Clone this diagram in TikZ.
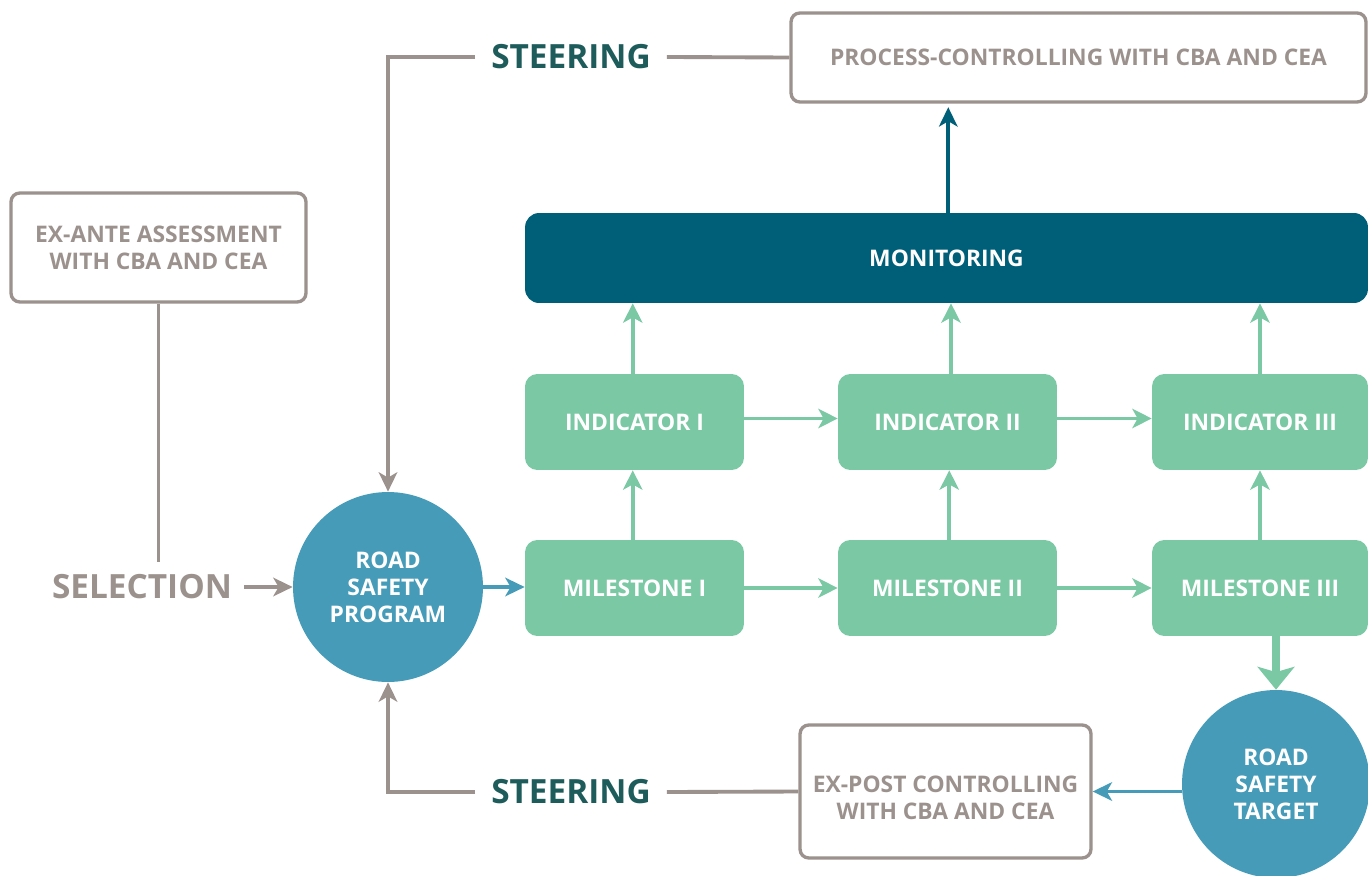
\documentclass[tikz,border=0pt]{standalone}
\usepackage{fontspec}
\setmainfont{Open Sans}
\usetikzlibrary{arrows.meta}
\definecolor{cgray}{HTML}{9B918D}
\definecolor{cblue}{HTML}{459BB8}
\definecolor{cgreen}{HTML}{7BC8A4}
\definecolor{cmon}{HTML}{005F78}
\definecolor{csteer}{HTML}{1E5C5B}
\tikzset{
  lbl/.style={font=\bfseries\fontsize{13}{15.4}\selectfont, align=center},
  graybox/.style={lbl, draw=cgray, line width=1.9pt, rounded corners=5pt, fill=white, text=cgray, inner sep=0pt},
  greenbox/.style={lbl, fill=cgreen, rounded corners=7pt, text=white, minimum width=4.38cm, minimum height=1.92cm, inner sep=0pt},
  circ/.style={lbl, circle, fill=cblue, text=white, inner sep=0pt},
  bigword/.style={font=\bfseries\fontsize{19}{22}\selectfont, inner sep=6.5pt},
  gline/.style={draw=cgray, line width=2.2pt},
  garrow/.style={gline, -{Stealth[length=11pt,width=10.5pt,inset=3pt]}},
  grarrow/.style={draw=cgreen, line width=2.2pt, -{Stealth[length=11pt,width=11pt,inset=3pt]}},
  barrow/.style={draw=cblue, line width=2.2pt, -{Stealth[length=11pt,width=10.5pt,inset=3pt]}},
  marrow/.style={draw=cmon, line width=2.2pt, -{Stealth[length=11pt,width=10.5pt,inset=3pt]}},
  bigarrow/.style={draw=cgreen, line width=4.8pt, -{Stealth[length=13pt,width=21pt,inset=3pt]}},
}
\begin{document}
\begin{tikzpicture}[x=0.02cm,y=-0.02cm]
\useasboundingbox (0,0) rectangle (1368,875);

% nodes
\node[graybox, minimum width=5.9cm, minimum height=2.18cm] (exante) at (158.5,247.5) {EX-ANTE ASSESSMENT\\WITH CBA AND CEA};
\node[bigword, text=cgray] (sel) at (142,587) {SELECTION};
\node[circ, minimum size=3.8cm] (rsp) at (388,587) {ROAD\\SAFETY\\PROGRAM};

\node[greenbox] (m1) at (634.5,588) {MILESTONE I};
\node[greenbox] (m2) at (947.5,588) {MILESTONE II};
\node[greenbox, minimum width=4.32cm] (m3) at (1260,588) {MILESTONE III};
\node[greenbox] (i1) at (634.5,422) {INDICATOR I};
\node[greenbox] (i2) at (947.5,422) {INDICATOR II};
\node[greenbox, minimum width=4.32cm] (i3) at (1260,422) {INDICATOR III};

\node[lbl, fill=cmon, text=white, rounded corners=8pt, minimum width=16.86cm, minimum height=1.8cm, inner sep=0pt] (mon) at (946.5,258) {MONITORING};
\node[graybox, minimum width=11.5cm, minimum height=1.78cm] (proc) at (1078.5,57.5) {PROCESS-CONTROLLING WITH CBA AND CEA};

\node[bigword, text=csteer, inner sep=9pt] (steerT) at (571,57) {STEERING};
\node[bigword, text=csteer, inner sep=9pt] (steerB) at (571,792) {STEERING};

\node[graybox, minimum width=5.82cm, minimum height=2.66cm,
  label={[lbl, text=cgray, yshift=-3.5pt]center:{EX-POST CONTROLLING\\WITH CBA AND CEA}}] (expost) at (945.5,791.5) {};
\node[circ, minimum size=3.76cm] (target) at (1276,784) {ROAD\\SAFETY\\TARGET};

\coordinate (selTop) at (158.5,562);

% connectors
\draw[gline] (exante.south) -- (selTop);
\draw[garrow] (sel.east) -- (rsp.west);
\draw[barrow] (rsp.east) -- (rsp.east -| m1.west);

\draw[grarrow] (m1.east) -- (m2.west);
\draw[grarrow] (m2.east) -- (m3.west);
\draw[grarrow] ([yshift=2pt]i1.east) -- ([yshift=2pt]i2.west);
\draw[grarrow] ([yshift=2pt]i2.east) -- ([yshift=2pt]i3.west);

\draw[grarrow] ([xshift=-1pt]m1.north) -- ([xshift=-1pt]i1.south);
\draw[grarrow] ([xshift=1pt]m2.north) -- ([xshift=1pt]i2.south);
\draw[grarrow] (m3.north) -- (i3.south);

\draw[grarrow] ([xshift=-1pt]i1.north) -- ([xshift=-1pt]i1.north |- mon.south);
\draw[grarrow] ([xshift=2pt]i2.north) -- ([xshift=2pt]i2.north |- mon.south);
\draw[grarrow] (i3.north) -- (i3.north |- mon.south);

\draw[marrow, shorten >=2pt] ([xshift=1pt]mon.north) -- ([xshift=1pt]mon.north |- proc.south);

\draw[bigarrow] (m3.south -| target.north) -- (target.north);
\draw[barrow] (target.west |- expost.east) -- (expost.east);

\draw[gline] (proc.west) -- (steerT.east);
\draw[garrow] (steerT.west) -| (rsp.north);
\draw[gline] (expost.west) -- (steerB.east);
\draw[garrow] (steerB.west) -| (rsp.south);
\end{tikzpicture}
\end{document}
